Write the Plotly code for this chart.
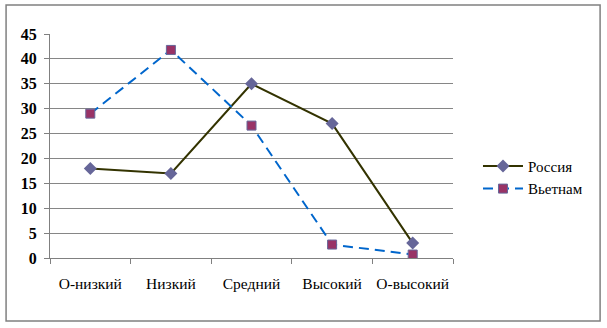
import plotly.graph_objects as go

categories = ["О-низкий", "Низкий", "Средний", "Высокий", "О-высокий"]
russia = [18, 17, 35, 27, 3]
vietnam = [29, 41.8, 26.6, 2.7, 0.7]
y_ticks = [0, 5, 10, 15, 20, 25, 30, 35, 40, 45]

FONT = "'Liberation Serif', 'Times New Roman', Tinos, 'DejaVu Serif', serif"

fig = go.Figure()
fig.add_trace(go.Scatter(
    x=categories, y=russia, name="Россия", mode="lines+markers",
    line=dict(color="#333300", width=2),
    marker=dict(symbol="diamond", size=10, color="#666699", line=dict(width=0)),
))
fig.add_trace(go.Scatter(
    x=categories, y=vietnam, name="Вьетнам", mode="lines+markers",
    line=dict(color="#0066CC", width=2, dash="10px,6px"),
    marker=dict(symbol="square", size=9, color="#993366", line=dict(color="#666699", width=1)),
))

fig.update_layout(
    width=607, height=328,
    margin=dict(l=50, r=154, t=34, b=70),
    paper_bgcolor="white", plot_bgcolor="white",
    font=dict(family=FONT, size=15, color="black"),
    showlegend=True,
    legend=dict(x=1.062, y=0.36, xanchor="left", yanchor="middle",
                font=dict(family=FONT, size=15),
                itemwidth=40, bgcolor="rgba(0,0,0,0)"),
    xaxis=dict(type="category", tickson="boundaries", ticks="outside", ticklen=5,
               tickcolor="#808080", showgrid=False, showline=True, linecolor="#808080",
               range=[-0.5, 4.5], ticklabelstandoff=11, tickangle=0,
               tickfont=dict(family=FONT, size=15.5)),
    yaxis=dict(range=[0, 45], tickvals=y_ticks, ticks="outside", ticklen=5,
               tickcolor="#808080", showgrid=True, gridcolor="#868686", gridwidth=1,
               showline=True, linecolor="#808080", zeroline=False,
               ticklabelstandoff=4,
               tickfont=dict(family=FONT, size=16, weight="bold")),
    shapes=[dict(type="rect", xref="paper", yref="paper",
                 x0=-0.109, x1=1.365, y0=-0.281, y1=1.129,
                 line=dict(color="#808080", width=1.5), fillcolor="rgba(0,0,0,0)",
                 layer="below")],
)

fig.write_html("out.html", config={"displayModeBar": False},
               post_script="document.body.style.margin='0';document.body.style.overflow='hidden';")
